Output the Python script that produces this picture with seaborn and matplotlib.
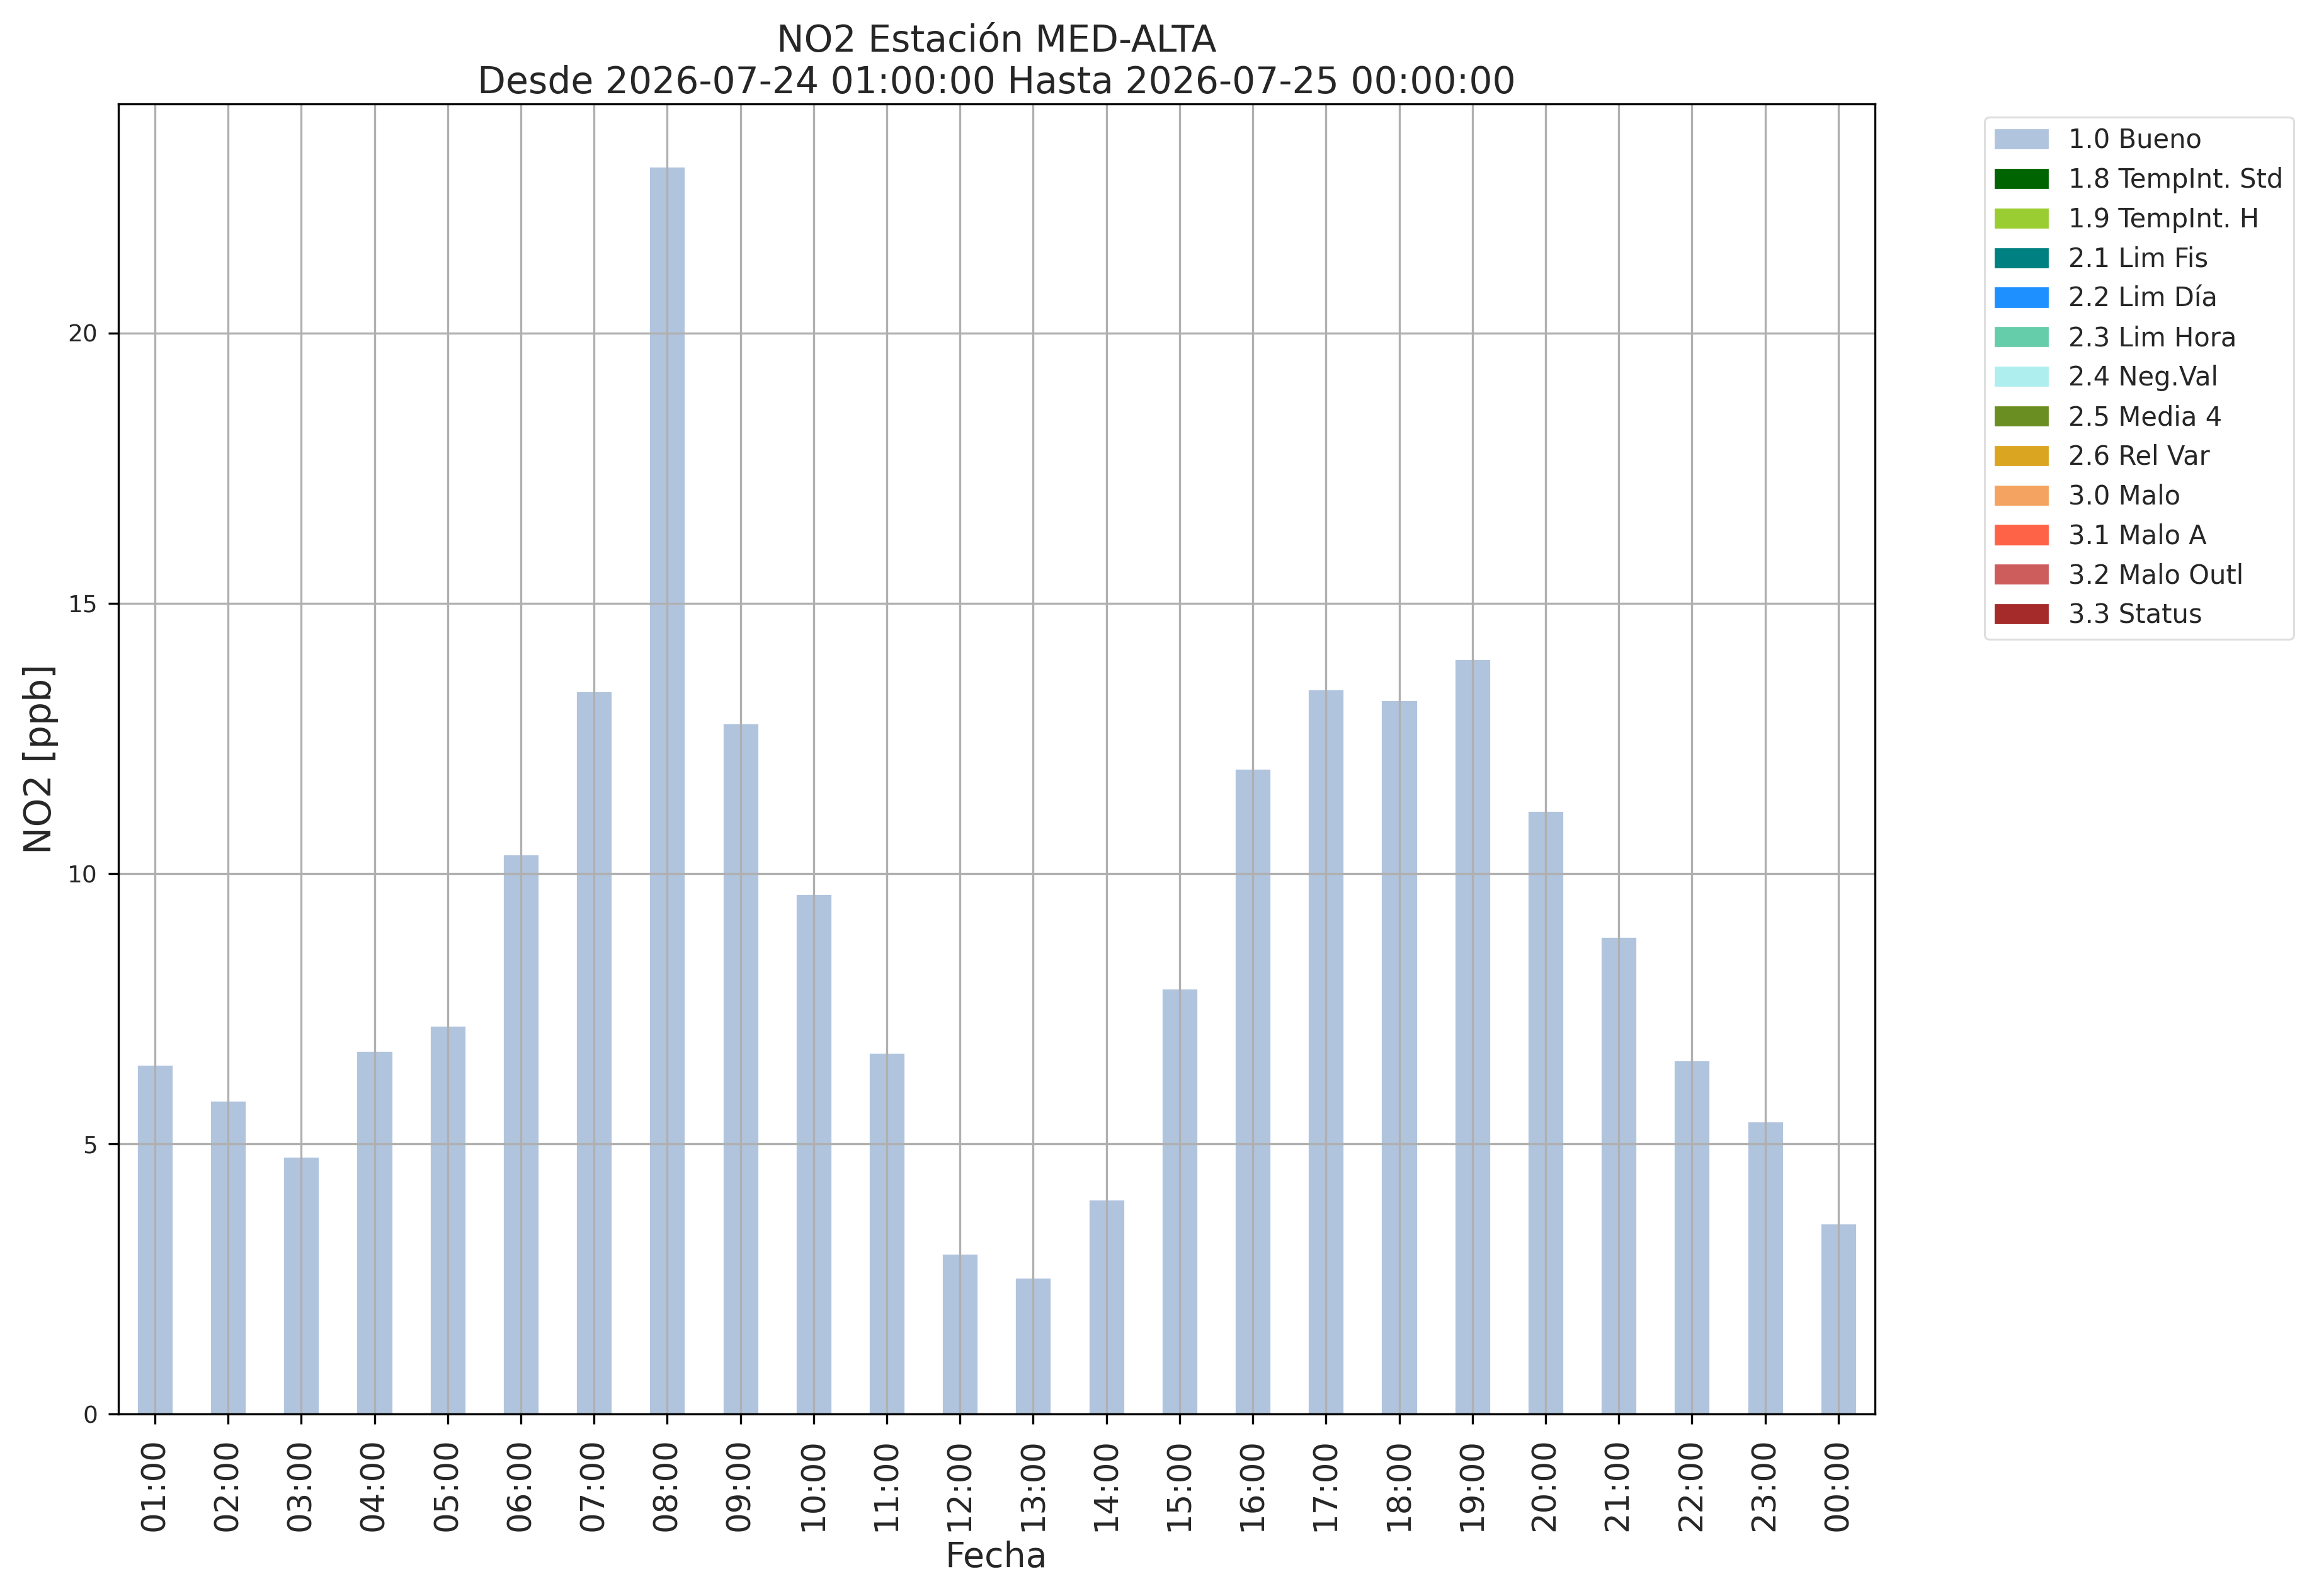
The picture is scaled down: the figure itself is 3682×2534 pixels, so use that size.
import pandas as pd
import matplotlib
matplotlib.use('Agg')
import matplotlib.pyplot as plt
import matplotlib.patches as mpatches
import seaborn as sns

# hourly NO2 values
horas = ['01:00', '02:00', '03:00', '04:00', '05:00', '06:00', '07:00', '08:00',
         '09:00', '10:00', '11:00', '12:00', '13:00', '14:00', '15:00', '16:00',
         '17:00', '18:00', '19:00', '20:00', '21:00', '22:00', '23:00', '00:00']
no2 = [6.47, 5.81, 4.77, 6.73, 7.19, 10.36, 13.38, 23.09,
       12.78, 9.63, 6.69, 2.97, 2.53, 3.97, 7.88, 11.95,
       13.41, 13.22, 13.97, 11.17, 8.83, 6.55, 5.42, 3.53]

# quality flags (legend) and their colours
flags = ['1.0 Bueno', '1.8 TempInt. Std', '1.9 TempInt. H', '2.1 Lim Fis',
         '2.2 Lim Día', '2.3 Lim Hora', '2.4 Neg.Val', '2.5 Media 4',
         '2.6 Rel Var', '3.0 Malo', '3.1 Malo A', '3.2 Malo Outl', '3.3 Status']
flag_colors = ['lightsteelblue', 'darkgreen', 'yellowgreen', 'teal',
               'dodgerblue', 'mediumaquamarine', 'paleturquoise', 'olivedrab',
               'goldenrod', 'sandybrown', 'tomato', 'indianred', 'brown']

df = pd.DataFrame({'Fecha': horas, 'NO2': no2, 'flag': '1.0 Bueno'})

sns.set_style('white')
plt.rcParams['font.family'] = ['DejaVu Sans']

fig = plt.figure(figsize=(18.41, 12.67), dpi=200)
ax = fig.add_axes([0.051, 0.114, 0.7575, 0.821])

sns.barplot(data=df, x='Fecha', y='NO2', order=horas, color=flag_colors[0],
            saturation=1, width=0.5, ax=ax, zorder=1)

ax.set_axisbelow(False)
ax.grid(True, color='#b0b0b0', linewidth=1.2, zorder=3)
for s in ax.spines.values():
    s.set_color('black')
    s.set_linewidth(1.2)
    s.set_zorder(4)

ax.tick_params(axis='both', direction='out', length=5.8, width=1.2,
               color='black', bottom=True, left=True)
ax.tick_params(axis='x', labelsize=18.5, labelrotation=90, pad=8)
ax.tick_params(axis='y', labelsize=13.5, pad=6)
ax.set_xlim(-0.5, len(horas) - 0.5)
ax.set_ylim(0, max(no2) * 1.05)
ax.set_yticks([0, 5, 10, 15, 20])

ax.set_title('NO2 Estación MED-ALTA\nDesde 2026-07-24 01:00:00 Hasta 2026-07-25 00:00:00',
             fontsize=21, pad=6)
ax.set_xlabel('Fecha', fontsize=20, labelpad=5)
ax.set_ylabel('NO2 [ppb]', fontsize=21, labelpad=5)

handles = [mpatches.Patch(color=c, label=f) for f, c in zip(flags, flag_colors)]
leg = ax.legend(handles=handles, loc='upper left', bbox_to_anchor=(1.055, 1.0),
                fontsize=15, frameon=True, fancybox=True, borderaxespad=0.5)
leg.get_frame().set_edgecolor('#d6d6d6')
leg.get_frame().set_linewidth(1.1)

fig.savefig('out.png', dpi=200)
